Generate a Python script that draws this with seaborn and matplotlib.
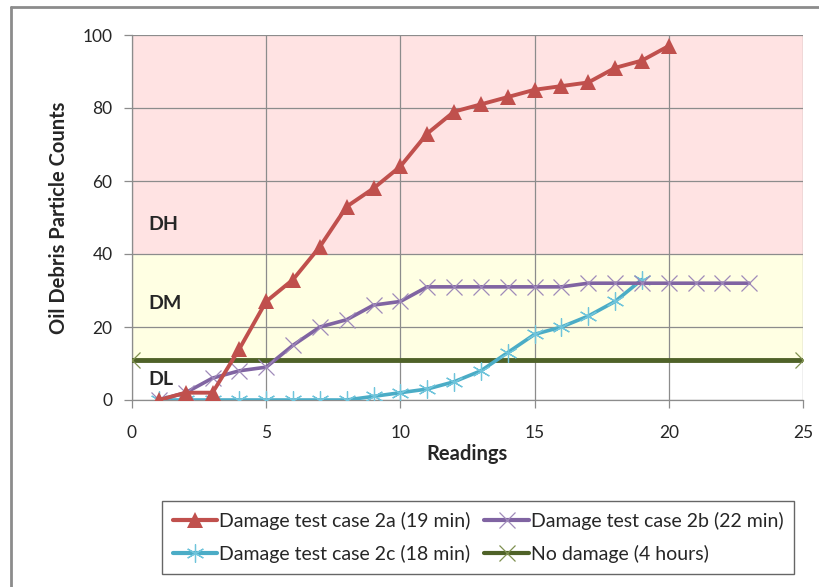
import matplotlib
matplotlib.use("Agg")
import matplotlib.pyplot as plt
import seaborn as sns
import pandas as pd
from matplotlib.lines import Line2D

sns.set_theme(style="white")
plt.rcParams['font.family'] = ['Lato', 'DejaVu Sans']

# ---- data ----
x_2a = list(range(1, 21))
y_2a = [0, 2, 2, 14, 27, 33, 42, 53, 58, 64, 73, 79, 81, 83, 85, 86, 87, 91, 93, 97]
x_2b = list(range(1, 24))
y_2b = [0, 2, 6, 8, 9, 15, 20, 22, 26, 27, 31, 31, 31, 31, 31, 31, 32, 32, 32, 32, 32, 32, 32]
x_2c = list(range(1, 20))
y_2c = [0, 0, 0, 0, 0, 0, 0, 0, 1, 2, 3, 5, 8, 13, 18, 20, 23, 27, 33]
x_nd = [0, 25]
y_nd = [11, 11]
labels = ["Damage test case 2a (19 min)", "Damage test case 2b (22 min)",
          "Damage test case 2c (18 min)", "No damage (4 hours)"]
zones = ["DH", "DM", "DL"]
zone_y = [48, 26.5, 5.5]

c_red = "#C0504D"
c_pur = "#8064A2"
c_cyan = "#4BACC6"
c_green = "#4F6228"

fig = plt.figure(figsize=(8.2, 5.87), dpi=100)
ax = fig.add_axes([132/820, 1-400/587, (803-132)/820, (400-35)/587])

# background zones
ax.axhspan(40, 100, color="#FFE3E3", zorder=0, lw=0)
ax.axhspan(y_nd[0], 40, color="#FFFFE3", zorder=0, lw=0)

df_a = pd.DataFrame({"x": x_2a, "y": y_2a})
df_b = pd.DataFrame({"x": x_2b, "y": y_2b})
df_c = pd.DataFrame({"x": x_2c, "y": y_2c})
df_n = pd.DataFrame({"x": x_nd, "y": y_nd})

st_n = dict(color=c_green, lw=3.5, marker="x", markersize=11, markeredgewidth=0.9, markeredgecolor="#7F9050")
st_c = dict(color=c_cyan, lw=2.6, marker=(6, 2, 0), markersize=13, markeredgewidth=0.9, markeredgecolor="#6FC4DB")
st_b = dict(color=c_pur, lw=2.6, marker="x", markersize=12, markeredgewidth=0.9, markeredgecolor="#9F8ABA")
st_a = dict(color=c_red, lw=2.8, marker="^", markersize=12, markeredgewidth=0)

sns.lineplot(data=df_n, x="x", y="y", ax=ax, zorder=3, **st_n)
sns.lineplot(data=df_c, x="x", y="y", ax=ax, zorder=4, **st_c)
sns.lineplot(data=df_b, x="x", y="y", ax=ax, zorder=5, **st_b)
sns.lineplot(data=df_a, x="x", y="y", ax=ax, zorder=6, **st_a)

ax.set_xlim(0, 25)
ax.set_ylim(0, 100)
ax.set_xticks([0, 5, 10, 15, 20, 25])
ax.set_yticks([0, 20, 40, 60, 80, 100])
ax.grid(True, color="#8C8C8C", lw=0.9, zorder=1)
ax.set_axisbelow(True)
for s in ["top", "right"]:
    ax.spines[s].set_visible(False)
for s in ["left", "bottom"]:
    ax.spines[s].set_color("#8C8C8C")
    ax.spines[s].set_linewidth(0.9)
ax.tick_params(axis="both", which="both", direction="out", length=6, width=0.9,
               color="#8C8C8C", labelsize=12.5, pad=8, left=True, bottom=True)
ax.tick_params(axis="x", pad=12)
ax.set_xlabel("Readings", fontsize=14.5, fontweight="bold", labelpad=2)
ax.set_ylabel("Oil Debris Particle Counts", fontsize=14.5, fontweight="bold", labelpad=10)

for z, zy in zip(zones, zone_y):
    ax.text(0.6, zy, z, fontsize=14, fontweight="bold", va="center", ha="left", zorder=7)

def h(st):
    d = dict(st)
    d["lw"] = 3
    return Line2D([], [], **d)

# column-major fill so rows read: 2a, 2b / 2c, no damage
handles = [h(st_a), h(st_c), h(st_b), h(st_n)]
leg_labels = [labels[0], labels[2], labels[1], labels[3]]
leg = fig.legend(handles, leg_labels, ncol=2, loc="center",
                 bbox_to_anchor=(478/820, 1-537.5/587),
                 fontsize=14, frameon=True, fancybox=False,
                 edgecolor="#404040", handlelength=2.3, handletextpad=0.1,
                 columnspacing=0.7, borderaxespad=0, labelspacing=0.75, borderpad=0.55)
leg.get_frame().set_linewidth(1.0)

# outer chart frame (top and left edges visible)
fig.add_artist(Line2D([11/820, 11/820], [0, 1-7/587], transform=fig.transFigure, color="#8C8C8C", lw=2))
fig.add_artist(Line2D([11/820, 1], [1-7/587, 1-7/587], transform=fig.transFigure, color="#8C8C8C", lw=2))

fig.savefig("out.png", dpi=100)
